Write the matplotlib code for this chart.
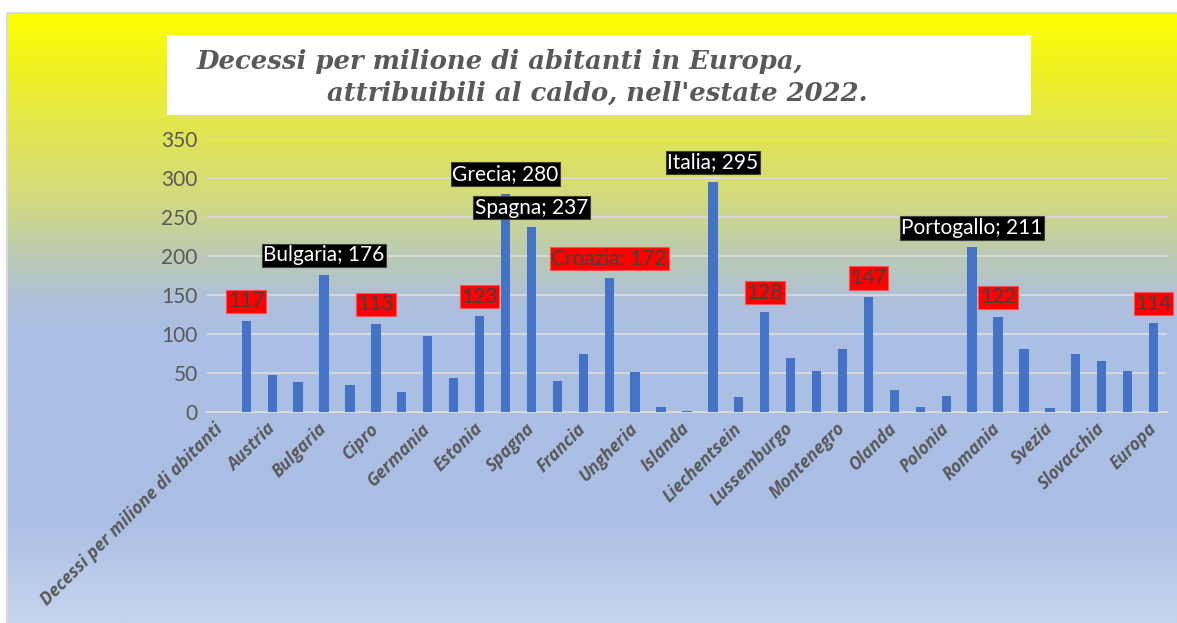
import numpy as np
import matplotlib
matplotlib.use("Agg")
import matplotlib.pyplot as plt
from matplotlib.patches import Rectangle
from matplotlib.colors import to_rgb

# ---------------- data ----------------
categories = [
    "Decessi per milione di abitanti", "Albania", "Austria", "Belgio", "Bulgaria",
    "Svizzera", "Cipro", "Cechia", "Germania", "Danimarca", "Estonia", "Grecia",
    "Spagna", "Finlandia", "Francia", "Croazia", "Ungheria", "Irlanda", "Islanda",
    "Italia", "Liechentsein", "Lituania", "Lussemburgo", "Lettonia", "Montenegro",
    "Malta", "Olanda", "Norvegia", "Polonia", "Portogallo", "Romania", "Serbia",
    "Svezia", "Slovenia", "Slovacchia", "Regno Unito", "Europa",
]
values = [
    None, 117, 47, 38, 176, 35, 113, 26, 98, 43, 123, 280, 237, 40, 74, 172, 51,
    6, 1, 295, 19, 128, 69, 52, 81, 147, 28, 6, 20, 211, 122, 81, 5, 74, 66, 52, 114,
]
# data labels: "black" = name; value on black, "red_name" = name; value on red,
# "red" = value only on red
labelled = {
    "Albania": "red", "Bulgaria": "black", "Cipro": "red", "Estonia": "red",
    "Grecia": "black", "Spagna": "black", "Croazia": "red_name", "Italia": "black",
    "Lituania": "red", "Malta": "red", "Portogallo": "black", "Romania": "red",
    "Europa": "red",
}
title_line1 = "Decessi per milione di abitanti in Europa,"
title_line2 = "attribuibili al caldo, nell'estate 2022."
yticks = [0, 50, 100, 150, 200, 250, 300, 350]

# ---------------- figure ----------------
W, H = 1177, 623
fig = plt.figure(figsize=(W / 100, H / 100), dpi=100)
fig.patch.set_facecolor("white")

bg = fig.add_axes([0, 0, 1, 1], zorder=-10)
bg.set_xlim(0, W)
bg.set_ylim(H, 0)
bg.axis("off")

# gradient of chart area
stops = [(13, "#FFFF00"), (60, "#F2F31C"), (130, "#E2E650"), (200, "#D2DA80"),
         (250, "#BDCCAF"), (300, "#AEC0DA"), (330, "#ABBFE5"), (520, "#ABBFE5"),
         (623, "#C6D5EE")]
ys = np.arange(13, 624)
sp = np.array([s[0] for s in stops], float)
cols = np.array([to_rgb(s[1]) for s in stops])
grad = np.stack([np.interp(ys, sp, cols[:, k]) for k in range(3)], axis=-1)
grad = np.repeat(grad[:, None, :], 2, axis=1)
bg.imshow(grad, extent=[7, W, H, 13], aspect="auto", interpolation="bilinear", zorder=0)
bg.add_patch(Rectangle((7, 13), W - 7 + 5, H, fill=False, ec="#D9D9D9", lw=1.5, zorder=1))

# title box
bg.add_patch(Rectangle((167, 35), 1031 - 167, 115 - 35, fc="white", ec="none", zorder=2))
tkw = dict(family="DejaVu Serif", weight="bold", style="italic", color="#595959",
           fontsize=18.6, va="center", ha="left", zorder=3)
bg.text(197, 61, title_line1, **tkw)
bg.text(327, 93, title_line2, **tkw)

# ---------------- main axes ----------------
L, R = 207.4, 1166.5
ax = fig.add_axes([L / W, (H - 412) / H, (R - L) / W, (412 - 139) / H])
ax.set_facecolor("none")
x = np.arange(len(categories))
bx = [i for i, v in zip(x, values) if v is not None]
bv = [v for v in values if v is not None]
ax.bar(bx, bv, width=0.36, color="#4472C4", zorder=3)

ax.set_xlim(-0.5, len(categories) - 0.5)
ax.set_ylim(0, 350)
ax.set_yticks(yticks)
ax.yaxis.grid(True, color="#D9D9D9", lw=1.4, zorder=0)
ax.set_axisbelow(True)
for s in ["top", "right", "left"]:
    ax.spines[s].set_visible(False)
ax.spines["bottom"].set_color("#D9D9D9")
ax.spines["bottom"].set_linewidth(1.5)
ax.tick_params(axis="both", length=0)
ax.tick_params(axis="y", pad=7)
for lab in ax.get_yticklabels():
    lab.set_family("Lato")
    lab.set_fontsize(15)
    lab.set_color("#595959")

shown = list(range(0, len(categories), 2))
ax.set_xticks(shown)
ax.set_xticklabels([categories[i] for i in shown], rotation=45, ha="right",
                   va="center", rotation_mode="anchor", family="Open Sans",
                   weight="bold", style="italic", fontsize=12.5, color="#595959")
ax.tick_params(axis="x", pad=10)

# data labels
for i, (c, v) in enumerate(zip(categories, values)):
    if c not in labelled or v is None:
        continue
    kind = labelled[c]
    if kind == "black":
        txt, fc, tc, ec = f"{c}; {v}", "black", "white", "#404040"
    elif kind == "red_name":
        txt, fc, tc, ec = f"{c}; {v}", "#FF0000", "#404040", "#FF5050"
    else:
        txt, fc, tc, ec = f"{v}", "#FF0000", "#404040", "#FF5050"
    ax.annotate(txt, (i, v), xytext=(0, 14), textcoords="offset points",
                ha="center", va="center", family="Lato", fontsize=15, color=tc,
                bbox=dict(boxstyle="square,pad=0.08", fc=fc, ec=ec, lw=0.8),
                zorder=5, annotation_clip=False)

fig.savefig("out.png", dpi=100)
